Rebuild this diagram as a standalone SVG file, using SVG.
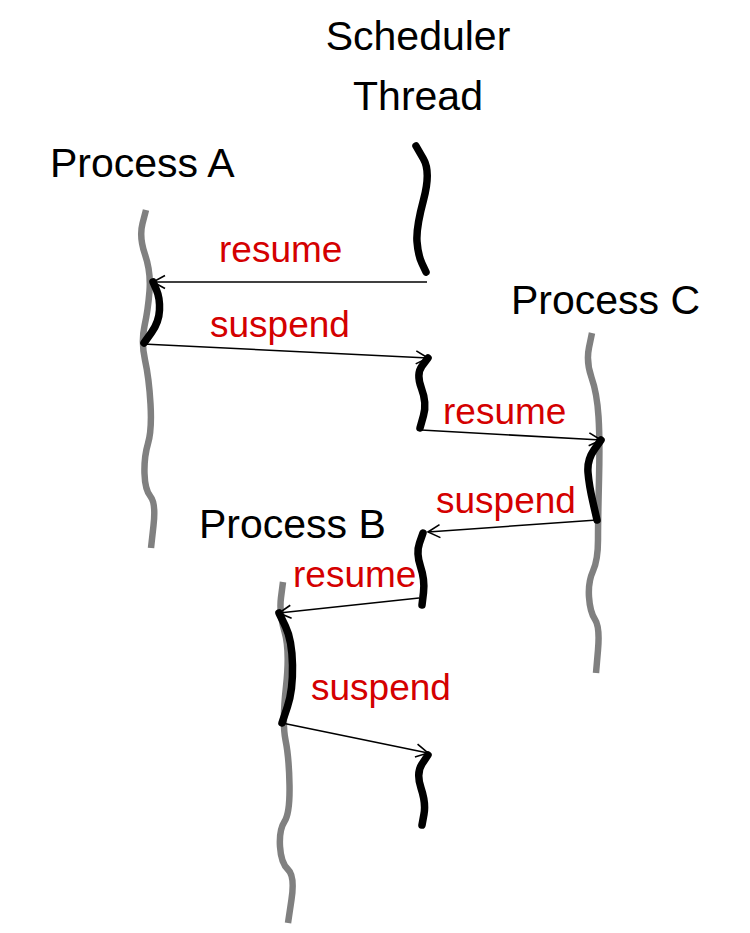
<svg xmlns="http://www.w3.org/2000/svg" width="750" height="933" viewBox="0 0 750 933">
<defs>
<style>
.title{font-family:"Liberation Sans",Arial,sans-serif;font-size:41px;fill:#000}
.lbl{font-family:"Liberation Sans",Arial,sans-serif;font-size:37px;fill:#d40000}
.gray{fill:none;stroke:#808080;stroke-width:6.5;stroke-linejoin:round;stroke-linecap:butt}
.blk{fill:none;stroke:#000;stroke-width:7.5;stroke-linejoin:round;stroke-linecap:round}
.arr{fill:none;stroke:#000;stroke-width:1.6;marker-end:url(#ah)}
</style>
<marker id="ah" markerUnits="userSpaceOnUse" markerWidth="16" markerHeight="16" refX="13" refY="8" orient="auto">
<path d="M1,1.5 L13,8 L1,14.5" fill="none" stroke="#000" stroke-width="1.6"/>
</marker>
</defs>
<rect width="750" height="933" fill="#fff"/>
<g id="scheduler">
<text class="title" x="418" y="50" text-anchor="middle">Scheduler</text>
<text class="title" x="418" y="110" text-anchor="middle">Thread</text>
<path class="blk" d="M416,146 L423.5,159 Q431,172 423.5,200 Q416,228 417,241.5 Q418,255 422,263.5 L426,272"/>
<path class="blk" d="M428,358 L422,366 Q416,374 421.5,388.5 Q427,403 423.5,415.5 L420,428"/>
<path class="blk" d="M423,533 L419.5,543 Q416,553 420.5,566.5 Q425,580 423.5,592.5 L422,605"/>
<path class="blk" d="M428,755 L422,764 Q416,773 421,788 Q426,803 424,814 L422,825"/>
</g>
<g id="processA">
<text class="title" x="50" y="177">Process A</text>
<path class="gray" d="M146,210 L142.5,223.5 Q139,237 145,254.5 Q151,272 149.5,291 Q148,310 144.5,326 Q141,342 145,360 Q149,378 150.5,404 Q152,430 148,443.5 Q144,457 144.5,473.5 Q145,490 150.5,496.5 Q156,503 153.5,525.5 L151,548"/>
<path class="blk" d="M153,282 L156.5,290 Q160,298 159.5,310 Q159,322 151.5,332.5 L144,343"/>
</g>
<g id="processC">
<text class="title" x="511" y="314">Process C</text>
<path class="gray" d="M592,333 L589,347.5 Q586,362 591.5,377.5 Q597,393 598.5,416.5 Q600,440 599,480 Q598,520 598,540 Q598,560 593,571 Q588,582 589,597 Q590,612 595,619.5 Q600,627 598,650 L596,673"/>
<path class="blk" d="M601,440 L594,450 Q587,460 588,472.5 Q589,485 593,502.5 L597,520"/>
</g>
<g id="processB">
<text class="title" x="199" y="538">Process B</text>
<path class="gray" d="M283,582 L281,597.5 Q279,613 284.5,631.5 Q290,650 286,686.5 Q282,723 285.5,740 Q289,757 289.5,785 Q290,813 284.5,821.5 Q279,830 280,846.5 Q281,863 288,869.5 Q295,876 291.5,899.5 L288,923"/>
<path class="blk" d="M279,613 L285.5,626.5 Q292,640 292.5,665 Q293,690 287.5,706.5 L282,723"/>
</g>
<g id="connectors">
<line class="arr" x1="427" y1="282" x2="153" y2="282"/>
<line class="arr" x1="143" y1="344" x2="428" y2="358"/>
<line class="arr" x1="421" y1="430" x2="601" y2="440"/>
<line class="arr" x1="597" y1="520" x2="428" y2="532"/>
<line class="arr" x1="419" y1="598" x2="279" y2="613"/>
<line class="arr" x1="282" y1="723" x2="428" y2="753"/>
<text class="lbl" x="219" y="262">resume</text>
<text class="lbl" x="210" y="337">suspend</text>
<text class="lbl" x="443" y="424">resume</text>
<text class="lbl" x="436" y="513">suspend</text>
<text class="lbl" x="293" y="587">resume</text>
<text class="lbl" x="311" y="700">suspend</text>
</g>
</svg>
